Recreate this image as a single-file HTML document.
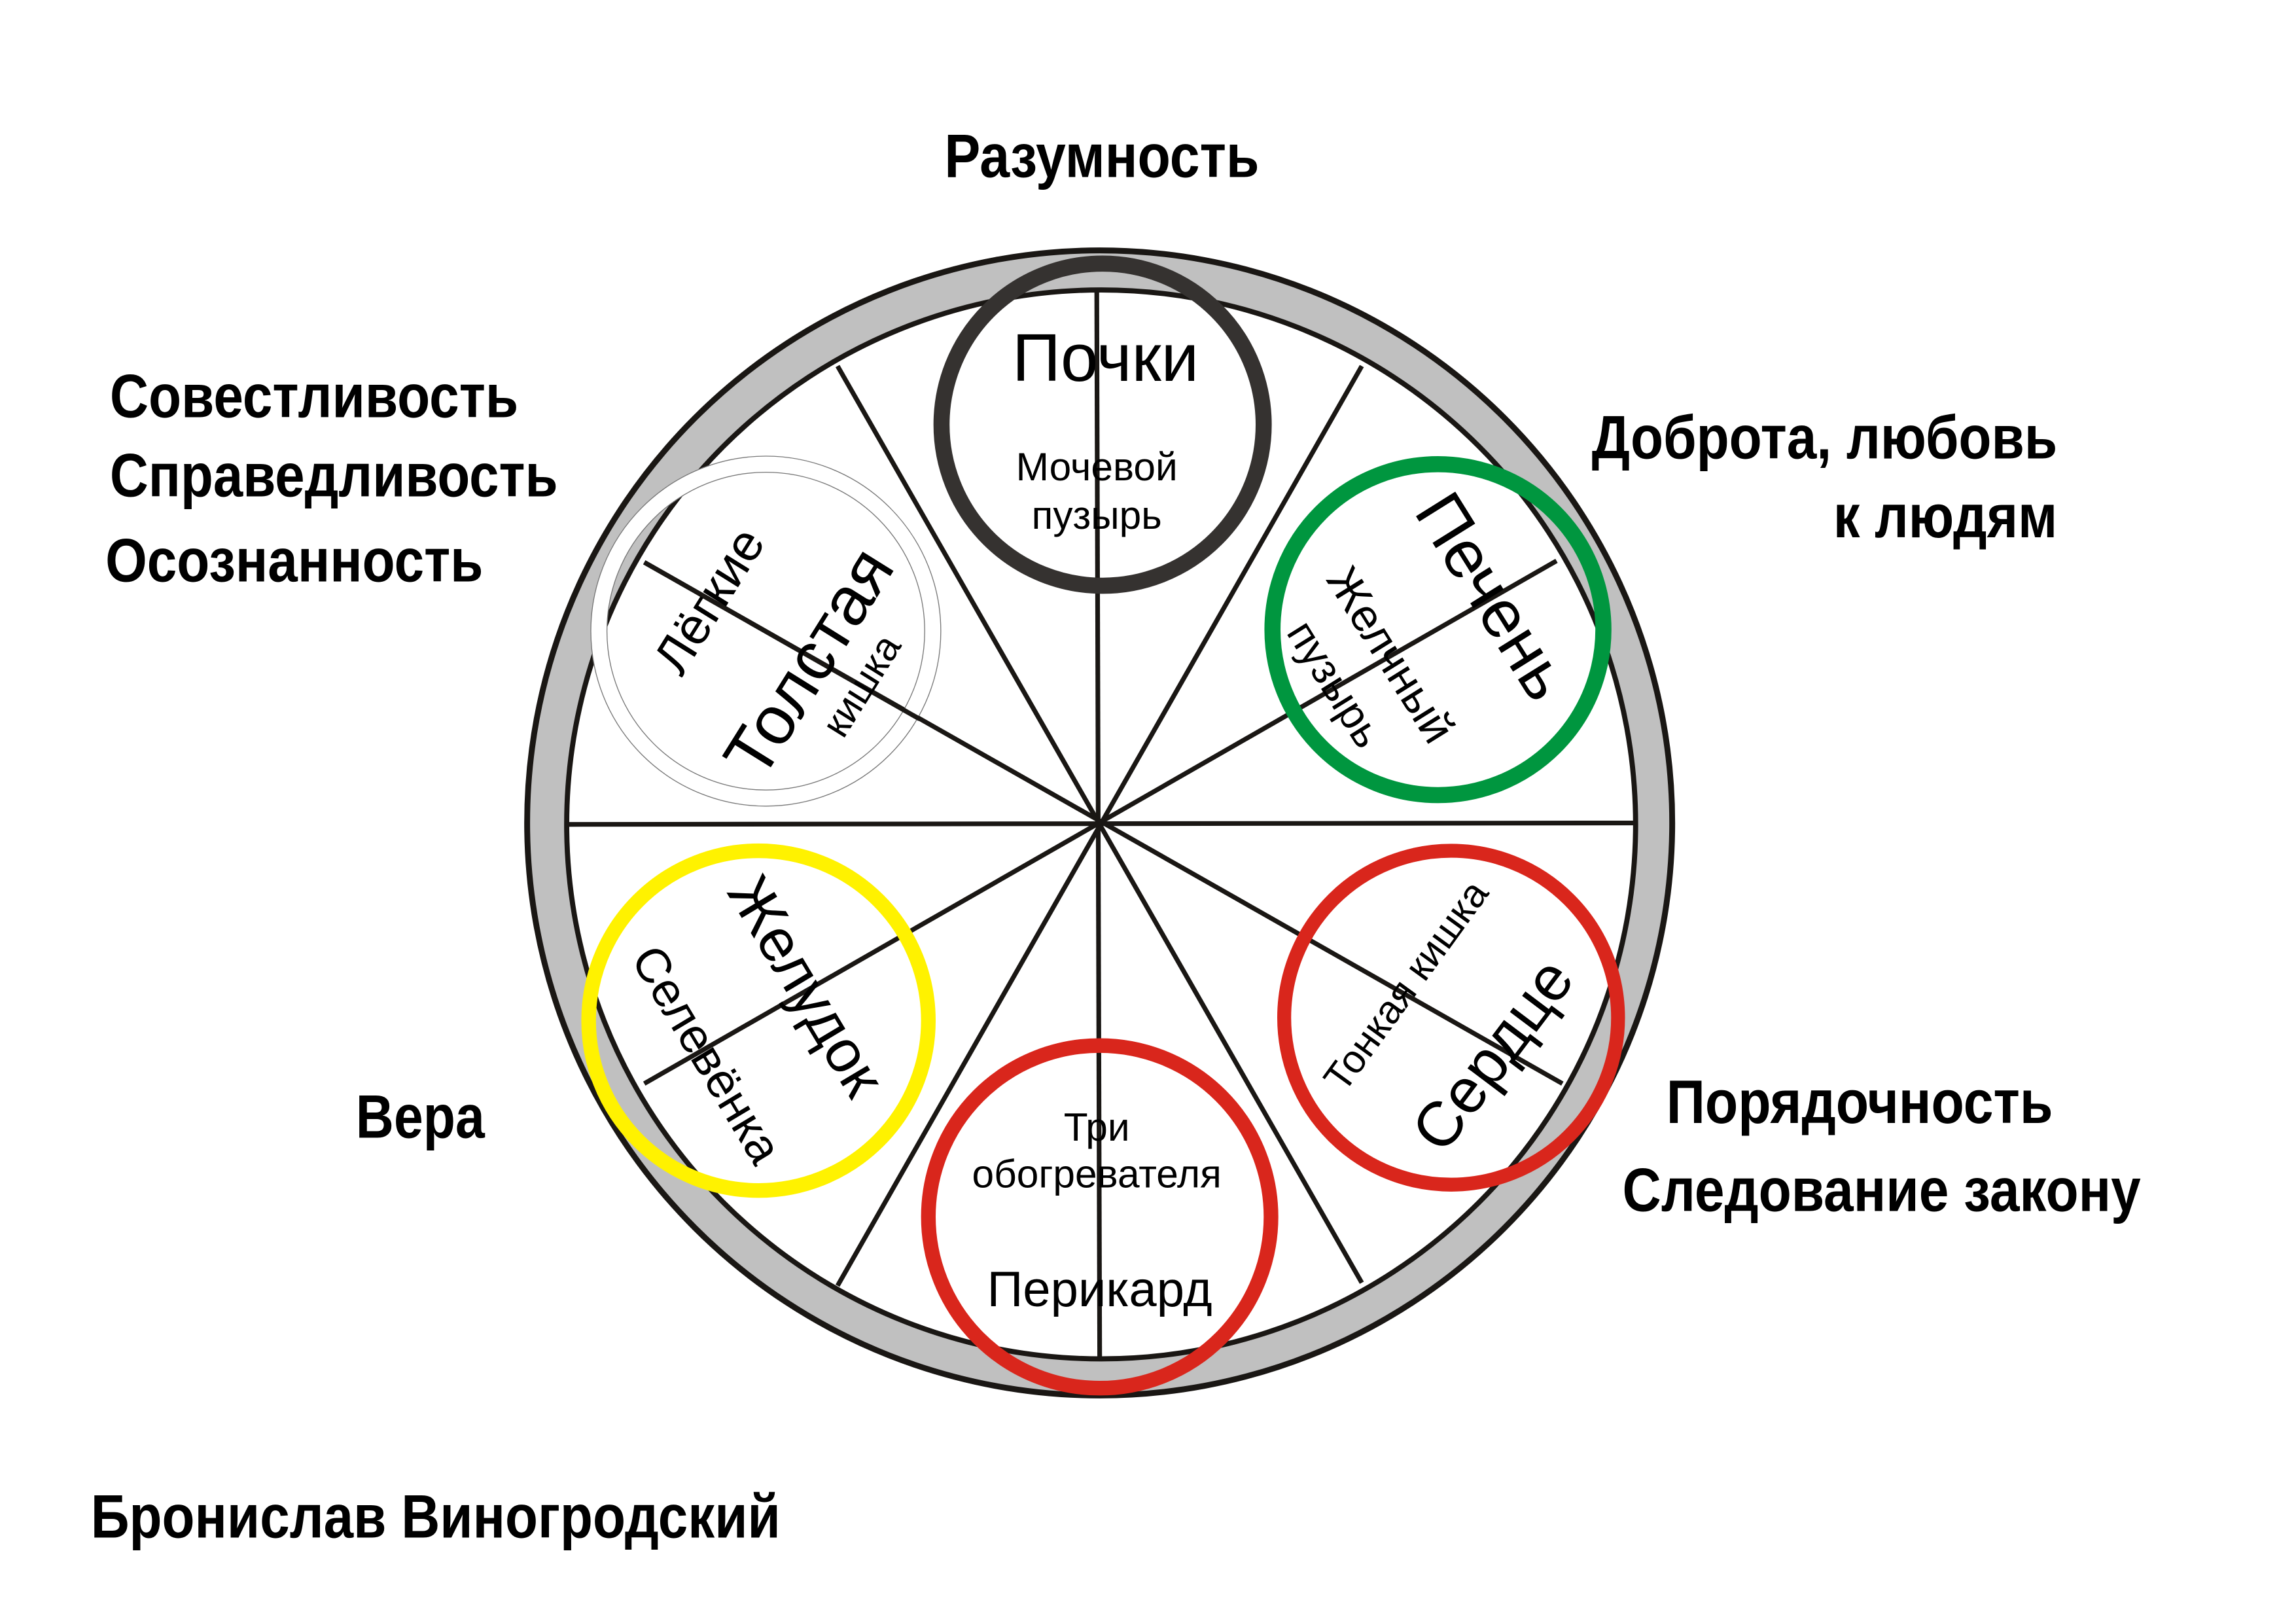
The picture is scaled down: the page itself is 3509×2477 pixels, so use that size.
<!DOCTYPE html>
<html><head><meta charset="utf-8"><style>
html,body{margin:0;padding:0;background:#fff;}
svg{display:block;}
text{font-family:"Liberation Sans",sans-serif;fill:#000;}
.b{font-weight:bold;font-size:42px;}
</style></head><body>
<svg width="3509" height="2477" viewBox="0 0 1568 1107" preserveAspectRatio="none" xmlns="http://www.w3.org/2000/svg">
<rect x="0" y="0" width="1568" height="1107" fill="#fff"/>
<circle cx="751" cy="562" r="391" fill="#c0c0c0" stroke="#1a1714" stroke-width="4"/>
<circle cx="752" cy="563" r="365" fill="#fff" stroke="#1a1714" stroke-width="3.5"/>
<g stroke="#1a1714" stroke-width="3.2" fill="none">
<line x1="749" y1="198" x2="751" y2="928"/>
<line x1="388" y1="563" x2="1116" y2="562"/>
<line x1="572" y1="250" x2="930" y2="876"/>
<line x1="930" y1="250" x2="572" y2="878"/>
<line x1="440" y1="384" x2="1067" y2="740"/>
<line x1="1063" y1="383" x2="440" y2="740"/>
</g>
<circle cx="753" cy="290" r="110" fill="none" stroke="#353230" stroke-width="11"/>
<circle cx="982" cy="430" r="113" fill="none" stroke="#00963f" stroke-width="11"/>
<circle cx="523" cy="431" r="114" fill="none" stroke="#fff" stroke-width="11"/>
<circle cx="523" cy="431" r="119.5" fill="none" stroke="#777" stroke-width="0.6"/>
<circle cx="523" cy="431" r="108.5" fill="none" stroke="#777" stroke-width="0.6"/>
<line x1="440" y1="384" x2="628" y2="491" stroke="#1a1714" stroke-width="3.2"/>
<circle cx="518" cy="697" r="116" fill="none" stroke="#fff200" stroke-width="10"/>
<circle cx="991" cy="695" r="114" fill="none" stroke="#d9261c" stroke-width="9.5"/>
<circle cx="751" cy="831" r="117" fill="none" stroke="#d9261c" stroke-width="10"/>
<text x="755" y="260" font-size="46" text-anchor="middle">Почки</text>
<text x="749" y="328" font-size="27" text-anchor="middle">Мочевой</text>
<text x="749" y="361" font-size="27" text-anchor="middle">пузырь</text>
<g text-anchor="middle">
<text transform="translate(1020,407) rotate(58)" dy="0.35em" font-size="46">Печень</text>
<text transform="translate(950,447) rotate(58)" dy="0.35em" font-size="31">Желчный</text>
<text transform="translate(912,467) rotate(58)" dy="0.35em" font-size="29">пузырь</text>
<text transform="translate(484,410) rotate(-58)" dy="0.35em" font-size="35">Лёгкие</text>
<text transform="translate(552,452) rotate(-58)" dy="0.35em" font-size="47">Толстая</text>
<text transform="translate(588,468) rotate(-58)" dy="0.35em" font-size="27">кишка</text>
<text transform="translate(551,673) rotate(59)" dy="0.35em" font-size="41">Желудок</text>
<text transform="translate(483,720) rotate(59)" dy="0.35em" font-size="33">Селевёнка</text>
<text transform="translate(1019,720) rotate(-53)" dy="0.35em" font-size="43">Сердце</text>
<text transform="translate(960,673) rotate(-54)" dy="0.35em" font-size="27">Тонкая кишка</text>
</g>
<text x="749" y="779" font-size="27" text-anchor="middle">Три</text>
<text x="749" y="811" font-size="27" text-anchor="middle">обогревателя</text>
<text x="751" y="892" font-size="34" text-anchor="middle">Перикард</text>
<text class="b" x="645" y="121" textLength="215" lengthAdjust="spacingAndGlyphs">Разумность</text>
<text class="b" x="75" y="285" textLength="279" lengthAdjust="spacingAndGlyphs">Совестливость</text>
<text class="b" x="75" y="339" textLength="306" lengthAdjust="spacingAndGlyphs">Справедливость</text>
<text class="b" x="72" y="397" textLength="258" lengthAdjust="spacingAndGlyphs">Осознанность</text>
<text class="b" x="1087" y="313" textLength="318" lengthAdjust="spacingAndGlyphs">Доброта, любовь</text>
<text class="b" x="1252" y="367" textLength="153" lengthAdjust="spacingAndGlyphs">к людям</text>
<text class="b" x="243" y="777" textLength="88" lengthAdjust="spacingAndGlyphs">Вера</text>
<text class="b" x="1138" y="767" textLength="264" lengthAdjust="spacingAndGlyphs">Порядочность</text>
<text class="b" x="1108" y="827" textLength="354" lengthAdjust="spacingAndGlyphs">Следование закону</text>
<text class="b" x="62" y="1050" textLength="471" lengthAdjust="spacingAndGlyphs">Бронислав Виногродский</text>
</svg>
</body></html>
